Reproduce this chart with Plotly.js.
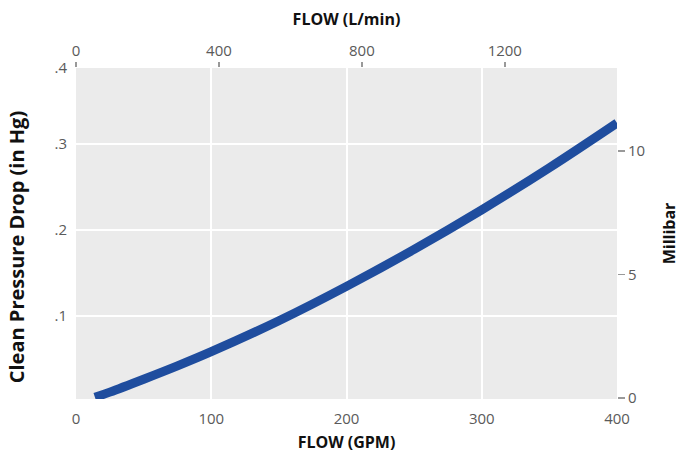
<!DOCTYPE html>
<html>
<head>
<meta charset="utf-8">
<script src="https://cdn.plot.ly/plotly-3.0.1.min.js"></script>
<style>html,body{margin:0;padding:0;background:#fff;}#chart{width:680px;height:453px;}</style>
</head>
<body>
<div id="chart"></div>
<script>
// Flow in GPM and clean pressure drop in inches of mercury
const flowGPM = [14, 25, 50, 75, 100, 150, 200, 250, 300, 350, 400];
const dropInHg = [0.005, 0.011, 0.026, 0.0415, 0.058, 0.094, 0.134, 0.177, 0.223, 0.272, 0.324];

const gpmTicks = [0, 100, 200, 300, 400];
const lpmTicks = [0, 400, 800, 1200];
const inHgTickVals = [0.1, 0.2, 0.3, 0.388];
const inHgTickText = ['.1', '.2', '.3', '.4'];
const mbarTicks = [0, 5, 10];

const GPM_TO_LPM = 3.785;
const INHG_TO_MBAR = 33.86;

const xRange = [0, 400];
const yRange = [0.003, 0.388];
const y2Range = [-0.04, 13.36];

const tickFont = {family: 'Open Sans, sans-serif', size: 15, color: '#5a5a5a'};
const titleFont = {family: 'Open Sans, sans-serif', size: 16, color: '#111', weight: 'bold'};

const trace = {
  x: flowGPM,
  y: dropInHg,
  type: 'scatter',
  mode: 'lines',
  line: {color: '#1f4d9e', width: 9, shape: 'spline', smoothing: 1},
  hoverinfo: 'skip',
  showlegend: false
};

// same curve in secondary units (L/min, mbar), invisible, so the secondary axes are drawn
const traceSecondary = {
  x: flowGPM.map(v => v * GPM_TO_LPM),
  y: dropInHg.map(v => v * INHG_TO_MBAR),
  xaxis: 'x2', yaxis: 'y2',
  type: 'scatter', mode: 'lines',
  line: {color: 'rgba(0,0,0,0)', width: 0},
  hoverinfo: 'skip', showlegend: false
};

const layout = {
  width: 680,
  height: 453,
  autosize: false,
  margin: {l: 76, r: 63, t: 68, b: 54},
  paper_bgcolor: '#ffffff',
  plot_bgcolor: '#ebebeb',
  showlegend: false,
  xaxis: {
    range: xRange,
    tickvals: gpmTicks,
    showgrid: true, gridcolor: '#ffffff', gridwidth: 2,
    zeroline: false, showline: false, ticks: '',
    ticklabelstandoff: 9,
    tickfont: tickFont,
    title: {text: '<b>FLOW (GPM)</b>', font: titleFont, standoff: 10}
  },
  xaxis2: {
    overlaying: 'x', side: 'top', anchor: 'y',
    range: [xRange[0] * GPM_TO_LPM, xRange[1] * GPM_TO_LPM],
    tickvals: lpmTicks,
    showgrid: false, zeroline: false, showline: false,
    ticks: 'outside', ticklen: 5, tickwidth: 1.5, tickcolor: '#999',
    tickfont: tickFont,
    title: {text: '<b>FLOW (L/min)</b>', font: titleFont, standoff: 10}
  },
  yaxis: {
    range: yRange,
    tickvals: inHgTickVals, ticktext: inHgTickText,
    showgrid: true, gridcolor: '#ffffff', gridwidth: 2,
    zeroline: false, showline: false, ticks: '',
    ticklabelstandoff: 8,
    tickfont: tickFont
  },
  yaxis2: {
    overlaying: 'y', side: 'right', anchor: 'x',
    range: y2Range,
    tickvals: mbarTicks,
    showgrid: false, zeroline: false, showline: false,
    ticks: 'outside', ticklen: 7, tickwidth: 1.5, tickcolor: '#999',
    tickfont: tickFont,
    title: {text: '<b>Millibar</b>', font: titleFont, standoff: 22}
  },
  annotations: [{
    text: '<b>Clean Pressure Drop (in Hg)</b>',
    xref: 'paper', yref: 'paper',
    x: -0.11, y: 0.46, xanchor: 'center', yanchor: 'middle',
    textangle: -90, showarrow: false,
    font: {family: 'Open Sans, sans-serif', size: 20, color: '#111'}
  }]
};

Plotly.newPlot('chart', [trace, traceSecondary], layout, {displayModeBar: false, staticPlot: true});
</script>
</body>
</html>
